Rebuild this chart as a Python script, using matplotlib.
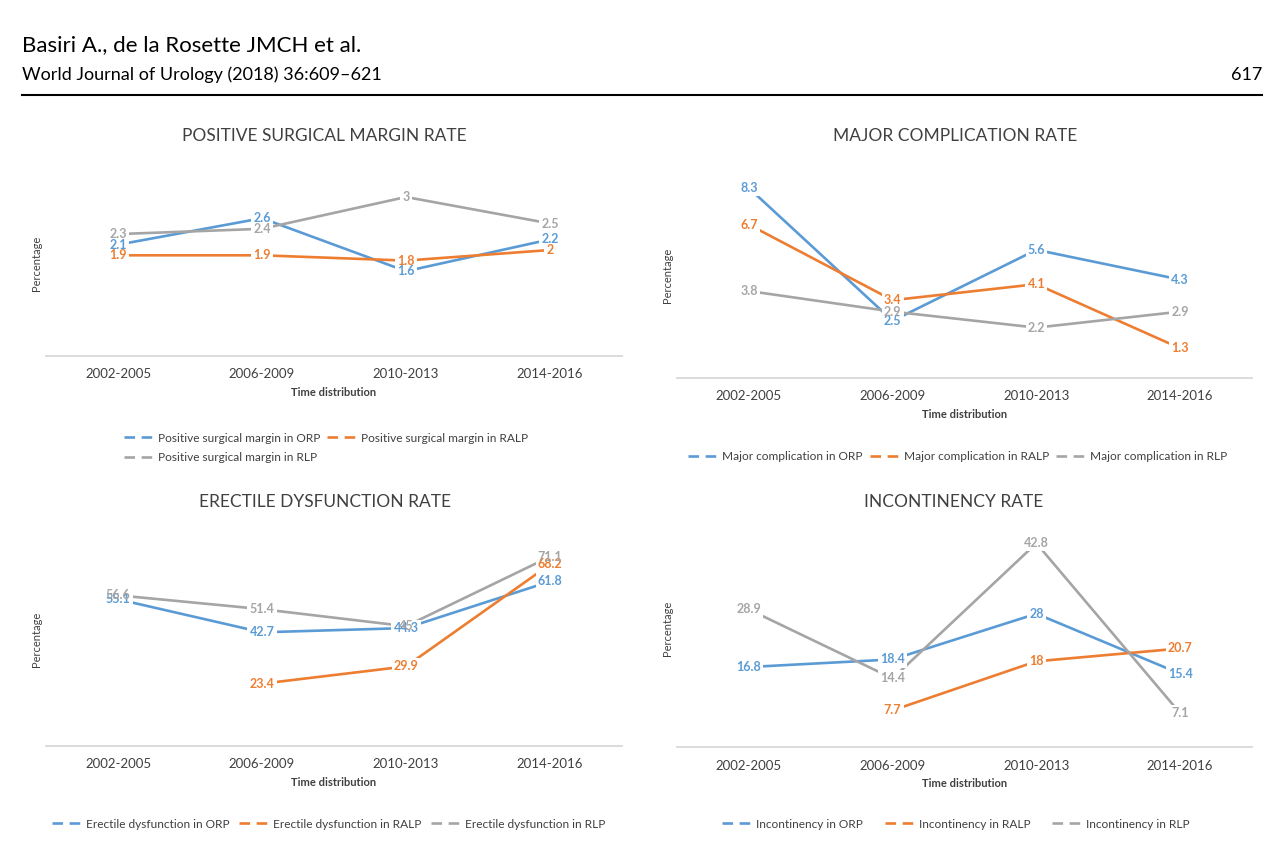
import numpy as np
import matplotlib
matplotlib.use("Agg")
import matplotlib.pyplot as plt
from matplotlib.lines import Line2D

plt.rcParams['font.family'] = ['Lato', 'DejaVu Sans']

periods = ["2002-2005", "2006-2009", "2010-2013", "2014-2016"]

# positive surgical margin rate
psm_orp = [2.1, 2.6, 1.6, 2.2]
psm_ralp = [1.9, 1.9, 1.8, 2]
psm_rlp = [2.3, 2.4, 3, 2.5]

# major complication rate
mc_orp = [8.3, 2.5, 5.6, 4.3]
mc_ralp = [6.7, 3.4, 4.1, 1.3]
mc_rlp = [3.8, 2.9, 2.2, 2.9]

# erectile dysfunction rate (no RALP value for first period)
ed_orp = [55.1, 42.7, 44.3, 61.8]
ed_ralp = [np.nan, 23.4, 29.9, 68.2]
ed_rlp = [56.6, 51.4, 45, 71.1]

# incontinency rate
inc_orp = [16.8, 18.4, 28, 15.4]
inc_ralp = [np.nan, 7.7, 18, 20.7]
inc_rlp = [28.9, 14.4, 42.8, 7.1]

BLUE = "#5B9BD5"
ORANGE = "#ED7D31"
GRAY = "#A5A5A5"
TXT = "#404040"

W, H = 1278, 857


def fmt(v):
	return ("%g" % v)


def add_panel(fig, box, ymax, title, title_xy, series, names, legend_xy, legend_ncol, colspace):
	left, top, right, bottom = box
	ax = fig.add_axes([left / W, 1 - bottom / H, (right - left) / W, (bottom - top) / H])
	x = np.arange(len(periods))
	colors = [BLUE, ORANGE, GRAY]
	for vals, c in zip(series, colors):
		ax.plot(x, vals, color=c, lw=1.9, solid_capstyle='butt', zorder=2)
	# white boxes first so overlapping labels stay readable
	for vals, c in zip(series, colors):
		for xi, v in zip(x, vals):
			if np.isnan(v):
				continue
			ax.text(xi, v, fmt(v), ha='center', va='center', fontsize=9, fontweight='bold',
				color='none', bbox=dict(fc='white', ec='none', pad=1.5), zorder=3)
	for vals, c in zip(series, colors):
		for xi, v in zip(x, vals):
			if np.isnan(v):
				continue
			ax.text(xi, v, fmt(v), ha='center', va='center', fontsize=9, fontweight='bold',
				color=c, zorder=4)
	ax.set_xlim(-0.5, 3.5)
	ax.set_ylim(0, ymax)
	ax.set_xticks(x)
	ax.set_xticklabels(periods, fontsize=9.5, color=TXT)
	ax.tick_params(axis='x', length=0, pad=9)
	ax.set_yticks([])
	for s in ['top', 'right', 'left']:
		ax.spines[s].set_visible(False)
	ax.spines['bottom'].set_color("#D9D9D9")
	ax.spines['bottom'].set_linewidth(1.3)
	ax.set_xlabel("Time distribution", fontsize=8, fontweight='bold', color=TXT, labelpad=5)
	ax.text(-0.016, 0.5, "Percentage", rotation=90, transform=ax.transAxes, ha='center', va='center',
		fontsize=8, color=TXT)
	fig.text(title_xy[0] / W, 1 - title_xy[1] / H, title, ha='center', va='center', fontsize=12.5, color=TXT)

	handles = [Line2D([], [], color=c, lw=1.9, dashes=(4, 2.5)) for c in colors]
	if legend_ncol == 2:
		order = [0, 2, 1]
		handles = [handles[i] for i in order]
		names = [names[i] for i in order]
	fig.legend(handles, names, loc='center', bbox_to_anchor=(legend_xy[0] / W, 1 - legend_xy[1] / H),
		ncol=legend_ncol, frameon=False, fontsize=8.6, handlelength=2.6, handletextpad=0.25,
		columnspacing=colspace, labelcolor=TXT, labelspacing=0.75)
	return ax


def main():
	fig = plt.figure(figsize=(W / 100, H / 100), dpi=100)

	# page header
	fig.text(22 / W, 1 - 45 / H, "Basiri A., de la Rosette JMCH et al.", ha='left', va='center', fontsize=16, color='black')
	fig.text(22 / W, 1 - 75 / H, "World Journal of Urology (2018) 36:609\u2013621", ha='left', va='center', fontsize=13, color='black')
	fig.text(1262 / W, 1 - 75 / H, "617", ha='right', va='center', fontsize=13, color='black')
	fig.add_artist(Line2D([22 / W, 1262 / W], [1 - 95 / H, 1 - 95 / H], color='black', lw=1.5))

	add_panel(fig, (46, 170.5, 622, 356), 3.5, "POSITIVE SURGICAL MARGIN RATE", (324, 136),
		[psm_orp, psm_ralp, psm_rlp],
		["Positive surgical margin in ORP", "Positive surgical margin in RALP", "Positive surgical margin in RLP"],
		(326, 448), 2, 0.5)
	add_panel(fig, (677, 172, 1252, 378), 9, "MAJOR COMPLICATION RATE", (955, 136),
		[mc_orp, mc_ralp, mc_rlp],
		["Major complication in ORP", "Major complication in RALP", "Major complication in RLP"],
		(958, 457), 3, 0.6)
	add_panel(fig, (46, 533, 622, 746), 80, "ERECTILE DYSFUNCTION RATE", (325, 502),
		[ed_orp, ed_ralp, ed_rlp],
		["Erectile dysfunction in ORP", "Erectile dysfunction in RALP", "Erectile dysfunction in RLP"],
		(329, 824), 3, 0.8)
	add_panel(fig, (677, 509, 1252, 747), 50, "INCONTINENCY RATE", (954, 502),
		[inc_orp, inc_ralp, inc_rlp],
		["Incontinency in ORP", "Incontinency in RALP", "Incontinency in RLP"],
		(956, 824), 3, 1.8)

	fig.savefig("out.png", dpi=100)


if __name__ == "__main__":
	main()
